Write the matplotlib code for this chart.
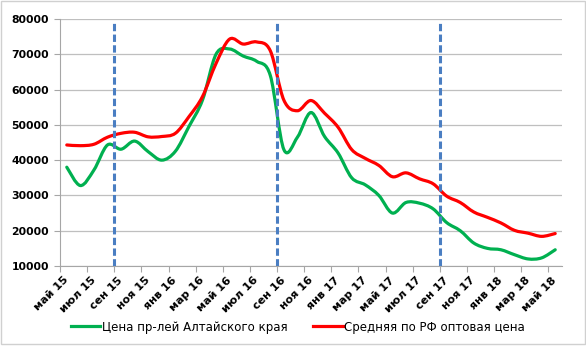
import matplotlib
matplotlib.use("Agg")
import matplotlib.pyplot as plt
import numpy as np
from matplotlib.path import Path
from matplotlib.patches import PathPatch, Rectangle
from matplotlib.lines import Line2D

# monthly prices, may 2015 - may 2018
months = ["май 15", "июн 15", "июл 15", "авг 15", "сен 15", "окт 15", "ноя 15", "дек 15",
          "янв 16", "фев 16", "мар 16", "апр 16", "май 16", "июн 16", "июл 16", "авг 16",
          "сен 16", "окт 16", "ноя 16", "дек 16", "янв 17", "фев 17", "мар 17", "апр 17",
          "май 17", "июн 17", "июл 17", "авг 17", "сен 17", "окт 17", "ноя 17", "дек 17",
          "янв 18", "фев 18", "мар 18", "апр 18", "май 18"]
altai = [38000, 32800, 37200, 44300, 43100, 45400, 42400, 40000, 42500, 49500,
         57000, 70000, 71500, 69500, 68000, 64000, 43000, 46500, 53500, 46700,
         42000, 35000, 33000, 30000, 25000, 28000, 27800, 26200, 22300, 20000,
         16500, 15000, 14600, 13200, 12000, 12300, 14600]
rf_avg = [44300, 44100, 44500, 46500, 47600, 47900, 46600, 46700, 47600, 52300,
          58000, 67400, 74300, 72900, 73500, 71000, 57000, 54000, 56900, 53300,
          49300, 43000, 40500, 38500, 35300, 36400, 34700, 33300, 29800, 28000,
          25300, 23800, 22200, 20100, 19300, 18400, 19200]
season_starts = ["сен 15", "сен 16", "сен 17"]

label_altai = "Цена пр-лей Алтайского края"
label_rf = "Средняя по РФ оптовая цена"
green = "#00B050"
red = "#FF0000"
blue = "#4A7EC2"
grid_c = "#BFBFBF"


def smooth_path(x, y):
    # smoothed line like excel: bezier segments with catmull-rom tangents
    pts = np.column_stack([x, y]).astype(float)
    ext = np.vstack([pts[0], pts, pts[-1]])
    verts = [pts[0]]
    codes = [Path.MOVETO]
    for i in range(len(pts) - 1):
        p0, p1, p2, p3 = ext[i], ext[i + 1], ext[i + 2], ext[i + 3]
        verts += [p1 + (p2 - p0) / 6, p2 - (p3 - p1) / 6, p2]
        codes += [Path.CURVE4] * 3
    return Path(verts, codes)


fig = plt.figure(figsize=(5.86, 3.46), dpi=100)
ax = fig.add_axes([60 / 586, 1 - 266 / 346, 502 / 586, 247 / 346])

x = np.arange(len(months))
for vals, col in [(altai, green), (rf_avg, red)]:
    ax.add_patch(PathPatch(smooth_path(x, vals), fill=False, edgecolor=col,
                           lw=2.3, capstyle="round", joinstyle="round", zorder=3))

for m in season_starts:
    ax.axvline(months.index(m) - 0.5, ymin=0.0, ymax=0.99, color=blue, lw=2.2,
               linestyle=(0, (2.4, 1.1)), zorder=4)

ax.set_xlim(-0.5, len(months) - 0.5)
ax.set_ylim(10000, 80000)
ax.set_yticks(np.arange(10000, 80001, 10000))
ax.grid(axis="y", color=grid_c, lw=0.9)
ax.set_axisbelow(True)

ax.set_xticks(x[::2])
ax.set_xticklabels(months[::2], rotation=45, ha="right", va="center",
                   rotation_mode="anchor", fontsize=8, fontweight="bold")
ax.set_xticks(np.arange(-0.5, len(months) - 1, 2), minor=True)
ax.tick_params(axis="x", which="major", length=0, pad=9)
ax.tick_params(axis="x", which="minor", length=4, color="#A6A6A6", width=0.8)
ax.tick_params(axis="y", length=4, color="#A6A6A6", width=0.8, pad=4, labelsize=7.8)
for t in ax.get_yticklabels():
    t.set_fontweight("bold")

for s in ["top", "right"]:
    ax.spines[s].set_visible(False)
for s in ["left", "bottom"]:
    ax.spines[s].set_color("#A6A6A6")
    ax.spines[s].set_linewidth(0.8)

handles = [Line2D([], [], color=green, lw=2.3), Line2D([], [], color=red, lw=2.3)]
fig.legend(handles, [label_altai, label_rf], loc="center", ncol=2,
           bbox_to_anchor=(0.508, 1 - 327 / 346), frameon=False, fontsize=8.5,
           handlelength=2.5, handletextpad=0.1, columnspacing=2.2)

fig.add_artist(Rectangle((1 / 586, 2 / 346), 584 / 586, 343 / 346, transform=fig.transFigure,
                         fill=False, edgecolor="#D0D0D0", lw=1.0))

fig.savefig("out.png", dpi=100)
